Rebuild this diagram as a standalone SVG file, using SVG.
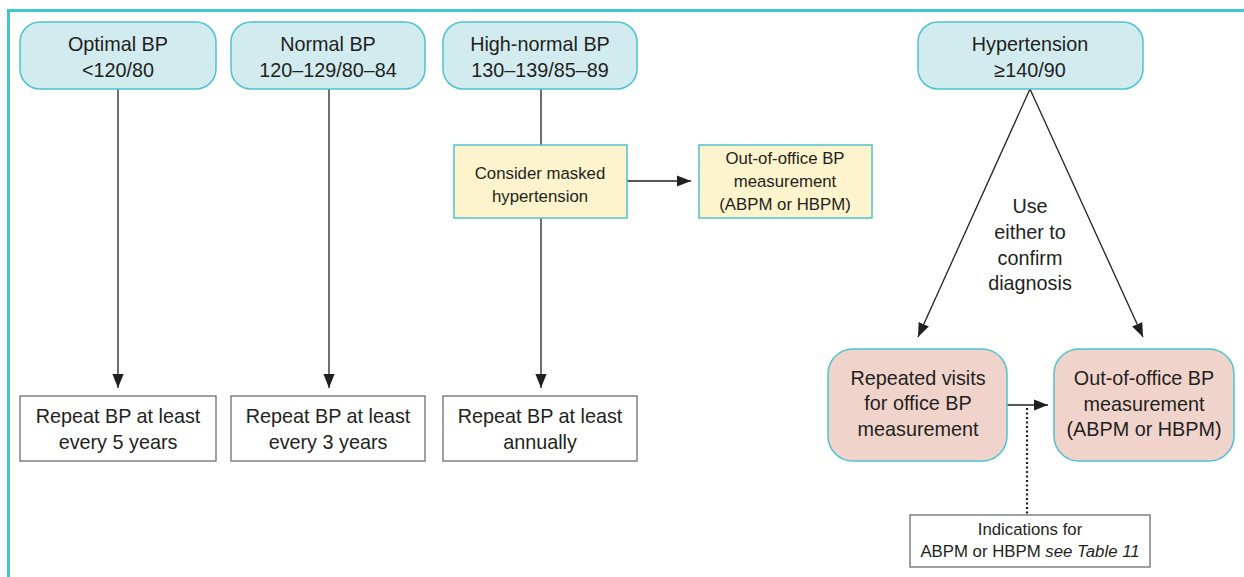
<svg xmlns="http://www.w3.org/2000/svg" width="1244" height="577" viewBox="0 0 1244 577">
<defs>
<marker id="ah2" viewBox="0 0 10 10" refX="10" refY="5" markerWidth="14" markerHeight="14" markerUnits="userSpaceOnUse" orient="auto">
<path d="M0,1 L10,5 L0,9 Z" fill="#231f20"/>
</marker>
<style>
text{font-family:"Liberation Sans",Arial,sans-serif;fill:#231f20;text-anchor:middle}
.t19{font-size:19.8px}
.t16{font-size:16.8px}
.blue{fill:#d2ebef;stroke:#4cc4d0;stroke-width:1.5}
.yel{fill:#fdf3cc;stroke:#4cc4d0;stroke-width:1.5}
.pink{fill:#f0d3cb;stroke:#4cc4d0;stroke-width:1.5}
.wht{fill:#fff;stroke:#6d6e70;stroke-width:1.3}
.ln{stroke:#231f20;stroke-width:1.3;fill:none}
</style>
</defs>
<rect width="1244" height="577" fill="#fff"/>
<path d="M8.5,577 V10.5 H1244" fill="none" stroke="#3fc6d2" stroke-width="3"/>

<g id="connectors">
<line class="ln" x1="118" y1="89" x2="118" y2="388" marker-end="url(#ah2)"/>
<line class="ln" x1="329" y1="89" x2="329" y2="388" marker-end="url(#ah2)"/>
<line class="ln" x1="541" y1="89" x2="541" y2="145"/>
<line class="ln" x1="541" y1="218" x2="541" y2="388" marker-end="url(#ah2)"/>
<line class="ln" x1="627" y1="181" x2="691" y2="181" marker-end="url(#ah2)"/>
<line class="ln" x1="1030" y1="89" x2="918" y2="337" marker-end="url(#ah2)"/>
<line class="ln" x1="1030" y1="89" x2="1143" y2="337" marker-end="url(#ah2)"/>
<line class="ln" x1="1007" y1="405" x2="1048" y2="405" marker-end="url(#ah2)"/>
<line x1="1027" y1="408" x2="1027" y2="515" stroke="#231f20" stroke-width="2.2" stroke-dasharray="2,2.5"/>
</g>

<g id="optimal">
<rect class="blue" x="20" y="22" width="196" height="67" rx="20"/>
<text class="t19" x="118" y="51">Optimal BP</text>
<text class="t19" x="118" y="77">&lt;120/80</text>
</g>
<g id="normal">
<rect class="blue" x="231" y="22" width="194" height="67" rx="20"/>
<text class="t19" x="328" y="51">Normal BP</text>
<text class="t19" x="328" y="77">120–129/80–84</text>
</g>
<g id="highnormal">
<rect class="blue" x="443" y="22" width="194" height="67" rx="20"/>
<text class="t19" x="540" y="51">High-normal BP</text>
<text class="t19" x="540" y="77">130–139/85–89</text>
</g>
<g id="hypertension">
<rect class="blue" x="918" y="22" width="225" height="67" rx="20"/>
<text class="t19" x="1030" y="51">Hypertension</text>
<text class="t19" x="1030" y="77">≥140/90</text>
</g>

<g id="masked">
<rect class="yel" x="454" y="145" width="173" height="73"/>
<text class="t16" x="540" y="179">Consider masked</text>
<text class="t16" x="540" y="202">hypertension</text>
</g>
<g id="outoffice1">
<rect class="yel" x="699" y="145" width="173" height="73"/>
<text class="t16" x="785" y="164">Out-of-office BP</text>
<text class="t16" x="785" y="187">measurement</text>
<text class="t16" x="785" y="210">(ABPM or HBPM)</text>
</g>

<g id="repeat5">
<rect class="wht" x="20" y="396" width="196" height="65"/>
<text class="t19" x="118" y="423">Repeat BP at least</text>
<text class="t19" x="118" y="449">every 5 years</text>
</g>
<g id="repeat3">
<rect class="wht" x="231" y="396" width="194" height="65"/>
<text class="t19" x="328" y="423">Repeat BP at least</text>
<text class="t19" x="328" y="449">every 3 years</text>
</g>
<g id="repeat1">
<rect class="wht" x="443" y="396" width="194" height="65"/>
<text class="t19" x="540" y="423">Repeat BP at least</text>
<text class="t19" x="540" y="449">annually</text>
</g>

<g id="use-either">
<text class="t19" x="1030" y="213">Use</text>
<text class="t19" x="1030" y="239">either to</text>
<text class="t19" x="1030" y="265">confirm</text>
<text class="t19" x="1030" y="290">diagnosis</text>
</g>

<g id="repeated-visits">
<rect class="pink" x="828" y="349" width="179" height="112" rx="25"/>
<text class="t19" x="918" y="385">Repeated visits</text>
<text class="t19" x="918" y="410">for office BP</text>
<text class="t19" x="918" y="436">measurement</text>
</g>
<g id="outoffice2">
<rect class="pink" x="1054" y="349" width="180" height="112" rx="25"/>
<text class="t19" x="1144" y="385">Out-of-office BP</text>
<text class="t19" x="1144" y="411">measurement</text>
<text class="t19" x="1144" y="436">(ABPM or HBPM)</text>
</g>

<g id="indications">
<rect class="wht" x="910" y="515" width="240" height="52"/>
<text class="t16" x="1030" y="535">Indications for</text>
<text class="t16" x="1030" y="557">ABPM or HBPM <tspan font-style="italic">see Table 11</tspan></text>
</g>
</svg>
